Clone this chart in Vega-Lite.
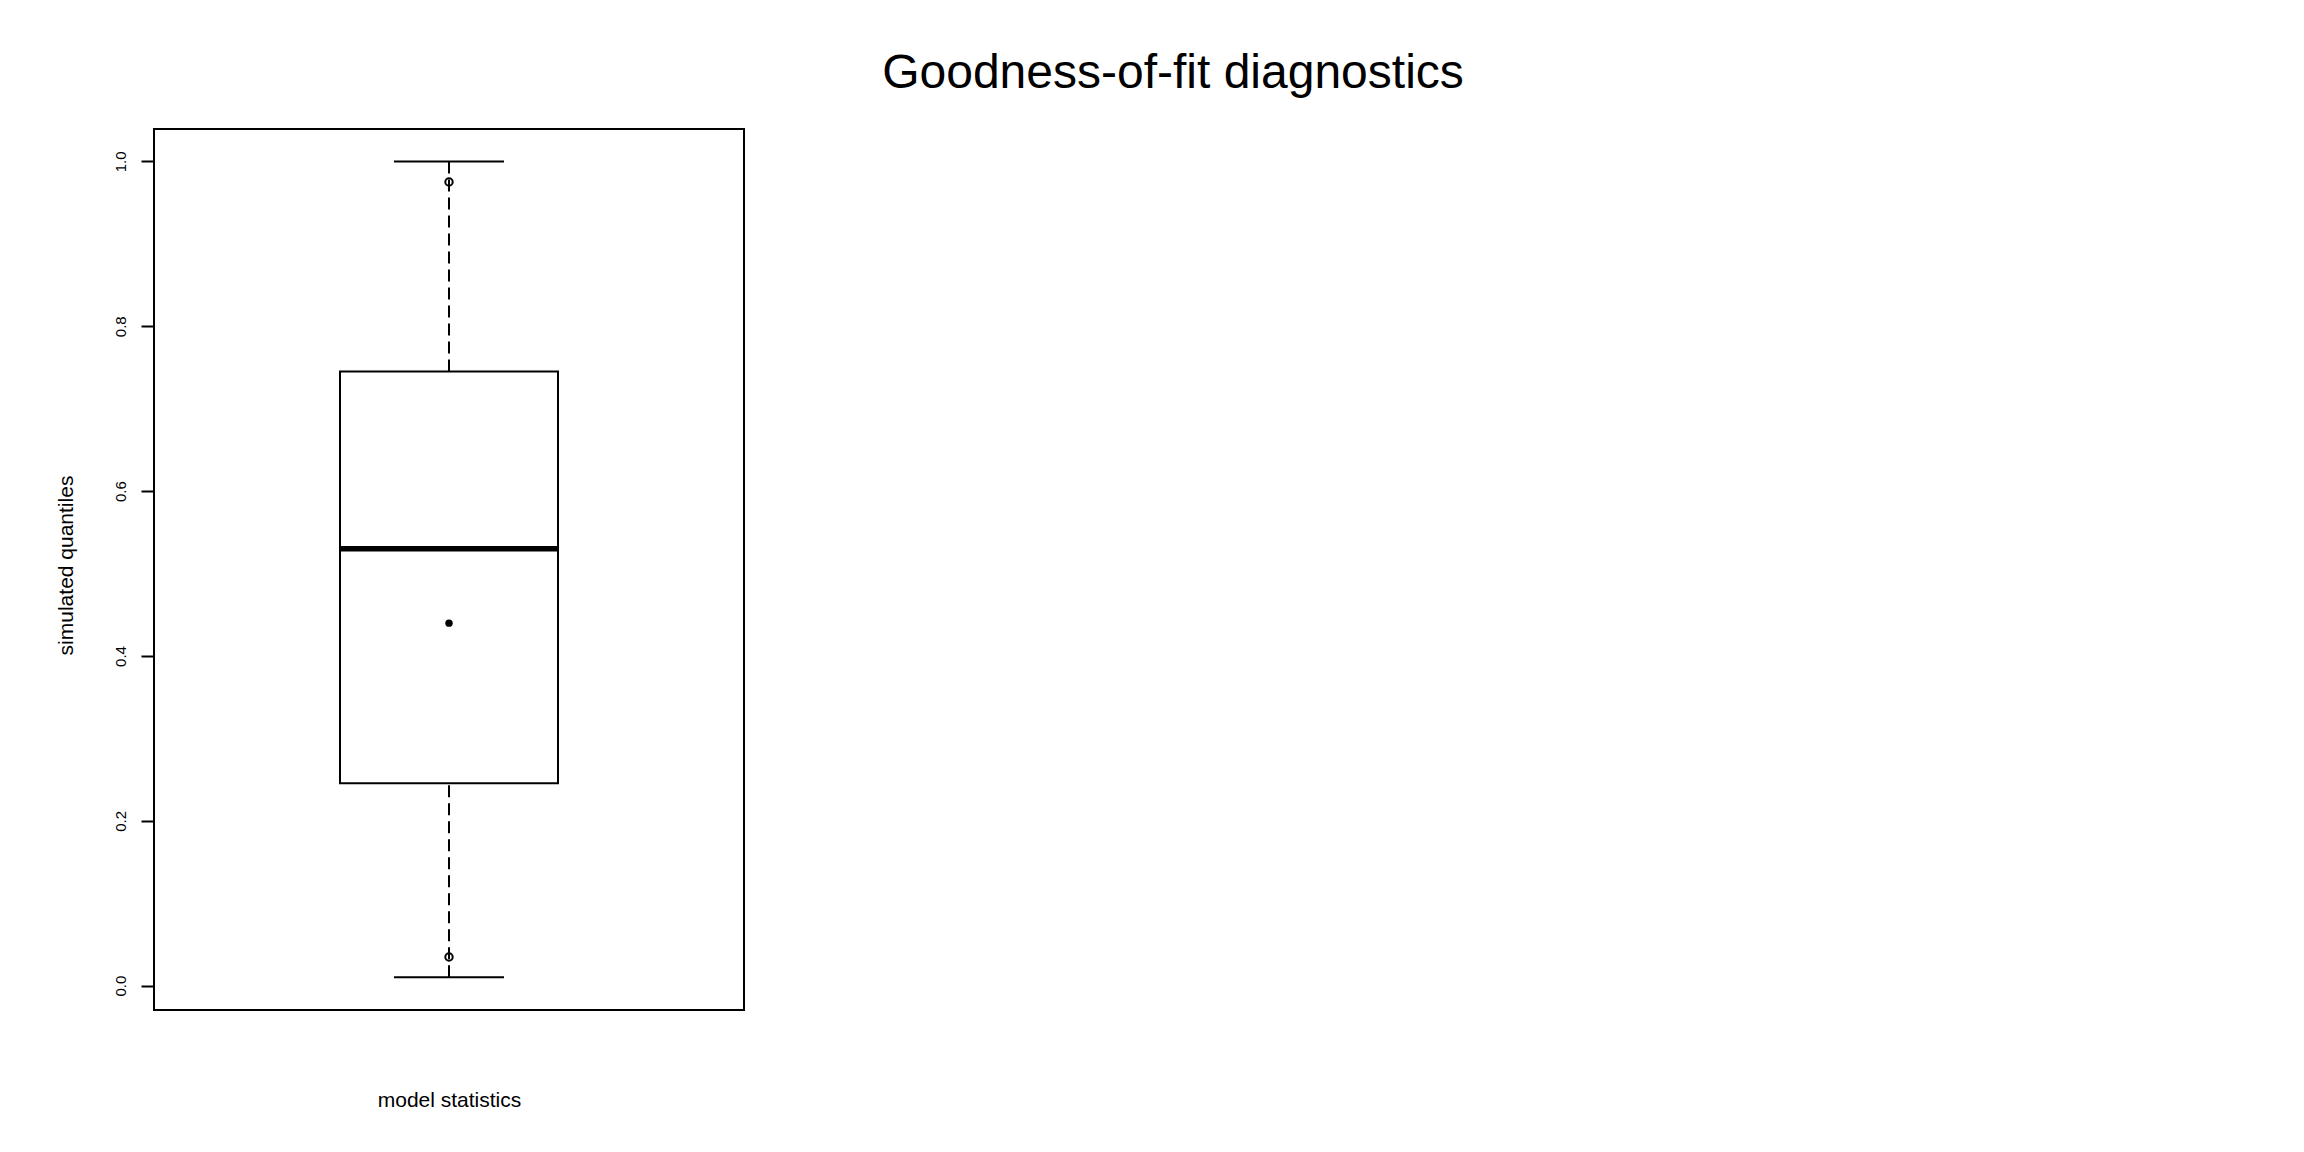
{
  "$schema": "https://vega.github.io/schema/vega-lite/v6.json",
  "autosize": {"type": "none"},
  "padding": {"left": 154, "top": 129, "right": 1560, "bottom": 142},
  "width": 590,
  "height": 881,
  "background": "white",
  "title": {
    "text": "Goodness-of-fit diagnostics",
    "anchor": "middle",
    "frame": "group",
    "dx": 724,
    "dy": 46,
    "offset": 39,
    "baseline": "alphabetic",
    "fontSize": 48,
    "fontWeight": "normal",
    "font": "Liberation Sans",
    "color": "black"
  },
  "config": {
    "font": "Liberation Sans",
    "view": {"stroke": "black", "strokeWidth": 2},
    "axis": {"grid": false}
  },
  "datasets": {
    "stats": [
      {"group": "model statistics", "lower": 0.0102, "q1": 0.2456, "median": 0.530, "q3": 0.7451, "upper": 1.0, "mean": 0.4398}
    ],
    "outliers": [
      {"group": "model statistics", "value": 0.975},
      {"group": "model statistics", "value": 0.0348}
    ]
  },
  "encoding": {
    "x": {
      "field": "group",
      "type": "nominal",
      "scale": {"paddingInner": 0, "paddingOuter": 0},
      "axis": {
        "labels": false,
        "ticks": false,
        "domain": false,
        "title": "model statistics",
        "titleFontSize": 21,
        "titleFontWeight": "normal",
        "titleColor": "black",
        "titleBaseline": "alphabetic",
        "titleY": 96
      }
    }
  },
  "layer": [
    {
      "data": {"name": "stats"},
      "mark": {"type": "rule", "color": "black", "strokeWidth": 2, "strokeDash": [12, 6]},
      "encoding": {
        "y": {
          "field": "upper",
          "type": "quantitative",
          "scale": {"domain": [-0.0295, 1.0393], "nice": false, "zero": false},
          "axis": {
            "values": [0, 0.2, 0.4, 0.6, 0.8, 1.0],
            "format": ".1f",
            "domain": false,
            "tickSize": 13,
            "tickWidth": 2,
            "tickColor": "black",
            "labelAngle": -90,
            "labelAlign": "center",
            "labelBaseline": "alphabetic",
            "labelPadding": 16,
            "labelFontSize": 15,
            "labelColor": "black",
            "title": "simulated quantiles",
            "titleFontSize": 21,
            "titleFontWeight": "normal",
            "titleColor": "black",
            "titleAngle": -90,
            "titleAlign": "center",
            "titleBaseline": "alphabetic",
            "titleX": -82,
            "titleY": 436
          }
        },
        "y2": {"field": "q3"}
      }
    },
    {
      "data": {"name": "stats"},
      "mark": {"type": "rule", "color": "black", "strokeWidth": 2, "strokeDash": [12, 6]},
      "encoding": {
        "y": {"field": "lower", "type": "quantitative"},
        "y2": {"field": "q1"}
      }
    },
    {
      "data": {"name": "stats"},
      "mark": {"type": "bar", "fill": "white", "stroke": "black", "strokeWidth": 2, "size": 218},
      "encoding": {
        "y": {"field": "q1", "type": "quantitative"},
        "y2": {"field": "q3"}
      }
    },
    {
      "data": {"name": "stats"},
      "mark": {"type": "tick", "orient": "horizontal", "color": "black", "opacity": 1, "size": 218, "thickness": 5.5},
      "encoding": {
        "y": {"field": "median", "type": "quantitative"}
      }
    },
    {
      "data": {"name": "stats"},
      "mark": {"type": "tick", "orient": "horizontal", "color": "black", "opacity": 1, "size": 110, "thickness": 2},
      "encoding": {
        "y": {"field": "upper", "type": "quantitative"}
      }
    },
    {
      "data": {"name": "stats"},
      "mark": {"type": "tick", "orient": "horizontal", "color": "black", "opacity": 1, "size": 110, "thickness": 2},
      "encoding": {
        "y": {"field": "lower", "type": "quantitative"}
      }
    },
    {
      "data": {"name": "outliers"},
      "mark": {"type": "point", "shape": "circle", "filled": false, "stroke": "black", "fill": "white", "fillOpacity": 0, "strokeWidth": 2, "size": 55, "opacity": 1},
      "encoding": {
        "y": {"field": "value", "type": "quantitative"}
      }
    },
    {
      "data": {"name": "stats"},
      "mark": {"type": "point", "shape": "circle", "filled": true, "color": "black", "size": 55, "opacity": 1},
      "encoding": {
        "y": {"field": "mean", "type": "quantitative"}
      }
    }
  ]
}
